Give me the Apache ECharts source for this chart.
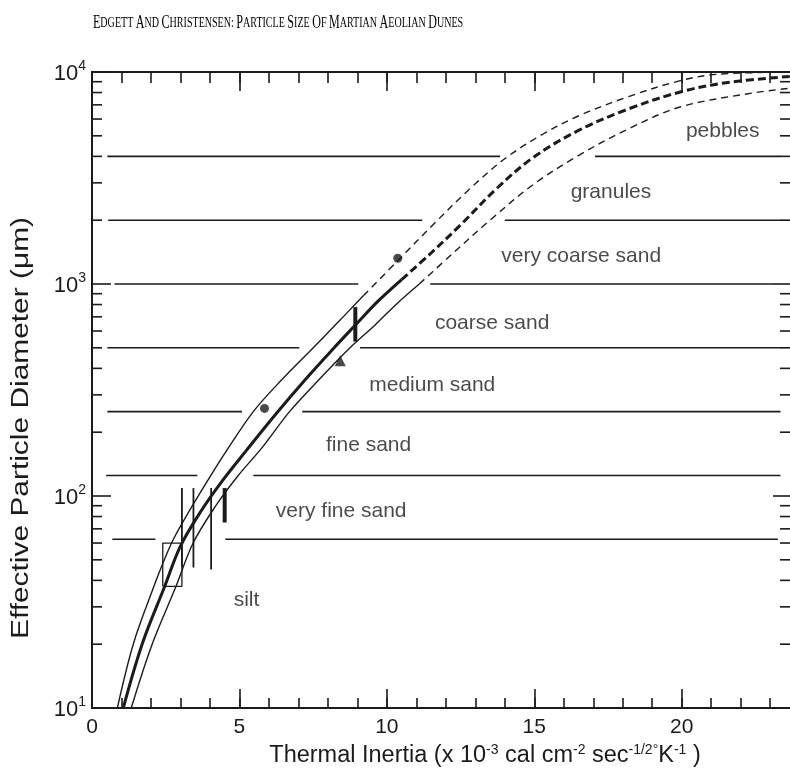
<!DOCTYPE html>
<html>
<head>
<meta charset="utf-8">
<script src="https://cdn.jsdelivr.net/npm/echarts@6/dist/echarts.min.js"></script>
<style>
  html, body { margin: 0; padding: 0; background: #fff; }
  #chart { width: 790px; height: 771px; }
</style>
</head>
<body>
<div id="chart"></div>
<script>
// grain size class boundaries (um) and the thermal inertia spans where each line is drawn
var boundaries = [62.5, 125, 250, 500, 1000, 2000, 4000];
var boundarySpans = [
  [[0.69, 2.15], [4.52, 23.26]],
  [[0.48, 3.57], [5.47, 23.35]],
  [[0.52, 5.09], [7.13, 23.35]],
  [[0.52, 7.03], [9.09, 23.35]],
  [[0.76, 9.03], [11.47, 23.1]],
  [[0.55, 11.2], [14.0, 23.35]],
  [[0.52, 13.84], [17.06, 23.35]]
];
var classNames = ['silt', 'very fine sand', 'fine sand', 'medium sand', 'coarse sand',
                  'very coarse sand', 'granules', 'pebbles'];
var classLabelAt = [[5.24, 32.3], [8.45, 85], [9.38, 174], [11.54, 334], [13.57, 656],
                    [16.59, 1349], [17.6, 2704], [21.39, 5240]];

// thermal inertia vs effective particle diameter curves
var centerSolid = [[1.06, 10], [1.7, 20], [2.45, 37], [3.0, 58], [3.7, 85], [4.4, 117],
                   [5.25, 165], [6.25, 245], [7.2, 350], [8.18, 495], [8.93, 640],
                   [9.7, 830], [10.5, 1050]];
var centerDashed = [[10.5, 1050], [11.5, 1400], [12.5, 1900], [13.7, 2800], [14.96, 3950],
                    [16.5, 5300], [18.2, 6700], [19.95, 8050], [21.5, 8900], [23.74, 9550]];
var upperSolid = [[0.86, 10], [1.4, 20], [2.1, 37.5], [2.4, 48], [2.76, 62.5], [3.3, 85],
                  [4.0, 123], [4.52, 160], [5.47, 250], [6.45, 355], [7.47, 495],
                  [8.25, 640], [9.2, 880]];
var upperDashed = [[9.2, 880], [10.4, 1300], [11.64, 1950], [12.8, 2800], [14.0, 3900],
                   [15.3, 5100], [16.55, 6250], [18.25, 7700], [19.95, 9100], [21.2, 9750],
                   [23.74, 10000]];
var lowerSolid = [[1.33, 10], [2.04, 20], [2.85, 37.5], [3.43, 60], [4.2, 90], [4.92, 123],
                  [5.81, 172], [6.7, 250], [7.75, 360], [8.75, 500], [9.6, 641],
                  [10.35, 810], [11.1, 1000]];
var lowerDashed = [[11.1, 1000], [12.25, 1400], [13.5, 2000], [14.9, 2900], [16.45, 4000],
                   [18.2, 5400], [19.95, 6840], [22.4, 7960], [23.74, 8400]];

// individual dune measurements
var circlePoints = [[5.85, 259], [10.37, 1322]];
var trianglePoints = [[8.42, 434]];
// vertical ranges: [inertia, low diameter, high diameter]
var thinRanges = [[3.05, 46, 109], [3.44, 46, 109], [4.04, 45, 109]];
var thickRanges = [[4.5, 75, 109], [8.93, 535, 778]];
var boxRange = [2.4, 3.05, 37.5, 60];

var minorTickValues = [];
[10, 100, 1000].forEach(function (d) {
  for (var k = 2; k <= 9; k++) minorTickValues.push(k * d);
});

var INK = '#1b1b1b';
var FONT = 'Liberation Sans';

function curve(data, width, dash) {
  return {
    type: 'line', data: data, symbol: 'none', smooth: 0.35, silent: true, z: 4,
    lineStyle: { color: INK, width: width, type: dash || 'solid' }
  };
}
function segment(data, width) {
  return {
    type: 'line', data: data, symbol: 'none', silent: true, z: 3,
    lineStyle: { color: INK, width: width }
  };
}

var series = [];
boundaries.forEach(function (b, i) {
  boundarySpans[i].forEach(function (s) {
    series.push(segment([[s[0], b], [s[1], b]], 1.6));
  });
});
series.push(curve(centerSolid, 3));
series.push(curve(centerDashed, 3, [8, 4]));
series.push(curve(upperSolid, 1.4));
series.push(curve(upperDashed, 1.4, [7, 5]));
series.push(curve(lowerSolid, 1.4));
series.push(curve(lowerDashed, 1.4, [7, 5]));
thinRanges.forEach(function (r) {
  series.push(segment([[r[0], r[1]], [r[0], r[2]]], 1.8));
});
thickRanges.forEach(function (r) {
  series.push(segment([[r[0], r[1]], [r[0], r[2]]], 4));
});
series.push(segment([[boxRange[0], boxRange[2]], [boxRange[1], boxRange[2]],
                     [boxRange[1], boxRange[3]], [boxRange[0], boxRange[3]],
                     [boxRange[0], boxRange[2]]], 1.3));
series.push({
  type: 'scatter', data: circlePoints, symbol: 'circle', symbolSize: 9, z: 6,
  itemStyle: { color: INK }, silent: true
});
series.push({
  type: 'scatter', data: trianglePoints, symbol: 'triangle', symbolSize: 11, z: 6,
  itemStyle: { color: INK }, silent: true
});
series.push({
  type: 'scatter', symbolSize: 1, silent: true, z: 5,
  itemStyle: { color: 'rgba(0,0,0,0)' },
  data: classNames.map(function (n, i) { return { name: n, value: classLabelAt[i] }; }),
  label: { show: true, position: 'inside', formatter: '{b}', color: INK,
           fontFamily: FONT, fontSize: 21 }
});
// minor log ticks on the left and right frame
series.push({
  type: 'custom', silent: true, z: 5,
  data: minorTickValues.map(function (v) { return [0, v]; }),
  renderItem: function (params, api) {
    var y = api.coord([0, api.value(1)])[1];
    var cs = params.coordSys;
    var st = { stroke: INK, lineWidth: 1.6 };
    return { type: 'group', children: [
      { type: 'line', shape: { x1: cs.x, y1: y, x2: cs.x + 10, y2: y }, style: st },
      { type: 'line', shape: { x1: cs.x + cs.width, y1: y, x2: cs.x + cs.width - 12, y2: y }, style: st }
    ] };
  }
});

function xAxisDef(pos, interval, tickLen, labels) {
  return {
    type: 'value', position: pos, min: 0, max: 23.74, interval: interval,
    axisLine: { show: true, onZero: false, lineStyle: { color: INK, width: 2 } },
    axisTick: { show: true, inside: true, length: tickLen, lineStyle: { color: INK, width: 1.6 } },
    splitLine: { show: false },
    axisLabel: labels ? {
      show: true, color: INK, fontFamily: FONT, fontSize: 21, margin: 9,
      formatter: function (v) { return v % 5 === 0 ? String(v) : ''; }
    } : { show: false }
  };
}
function yAxisDef(pos, labels) {
  return {
    type: 'log', logBase: 10, position: pos, min: 10, max: 10000,
    axisLine: { show: true, onZero: false, lineStyle: { color: INK, width: 2 } },
    axisTick: { show: true, inside: true, length: 19, lineStyle: { color: INK, width: 1.6 } },
    splitLine: { show: false },
    axisLabel: labels ? {
      show: true, margin: 6,
      formatter: function (v) { return '{b|10}{e|' + Math.round(Math.log10(v)) + '}'; },
      rich: {
        b: { fontFamily: FONT, fontSize: 22, color: INK, lineHeight: 26, verticalAlign: 'bottom' },
        e: { fontFamily: FONT, fontSize: 14, color: INK, lineHeight: 26, verticalAlign: 'top' }
      }
    } : { show: false }
  };
}

function smallCaps(text) {
  return text.split(' ').map(function (w) {
    return '{b|' + w.charAt(0) + '}' + (w.length > 1 ? '{s|' + w.slice(1) + '}' : '');
  }).join('{s| }');
}

var xBottom = xAxisDef('bottom', 5, 19, true);
xBottom.name = 'Thermal Inertia (x 10{sup|-3} cal cm{sup|-2} sec{sup|-1/2°}K{sup|-1} )';
xBottom.nameLocation = 'middle';
xBottom.nameGap = 31;
xBottom.nameTextStyle = {
  fontFamily: FONT, fontSize: 23.5, color: INK, padding: [0, 0, 0, 86],
  rich: { sup: { fontFamily: FONT, fontSize: 14, color: INK, verticalAlign: 'top', lineHeight: 26 } }
};

var chart = echarts.init(document.getElementById('chart'));
chart.setOption({
  animation: false,
  backgroundColor: '#fff',
  graphic: [
    {
      type: 'text', x: 93, y: 14, scaleX: 0.67, silent: true,
      style: {
        text: smallCaps('EDGETT AND CHRISTENSEN: PARTICLE SIZE OF MARTIAN AEOLIAN DUNES'),
        rich: {
          b: { fontFamily: 'Liberation Serif', fontSize: 18, fill: '#000' },
          s: { fontFamily: 'Liberation Serif', fontSize: 15, fill: '#000' }
        }
      }
    },
    {
      type: 'text', x: 22, y: 428, rotation: Math.PI / 2, scaleX: 1.3, silent: true,
      style: {
        text: 'Effective Particle Diameter (\u03bcm)', fontFamily: FONT, fontSize: 23,
        fill: INK, align: 'center', verticalAlign: 'middle'
      }
    }
  ],
  grid: { left: 92, right: -2, top: 72, bottom: 63, outerBoundsMode: 'none', containLabel: false },
  xAxis: [
    xAxisDef('bottom', 1, 10, false),
    xBottom,
    xAxisDef('top', 1, 11, false),
    xAxisDef('top', 5, 19, false)
  ],
  yAxis: [yAxisDef('left', true), yAxisDef('right', false)],
  series: series
});
</script>
</body>
</html>
